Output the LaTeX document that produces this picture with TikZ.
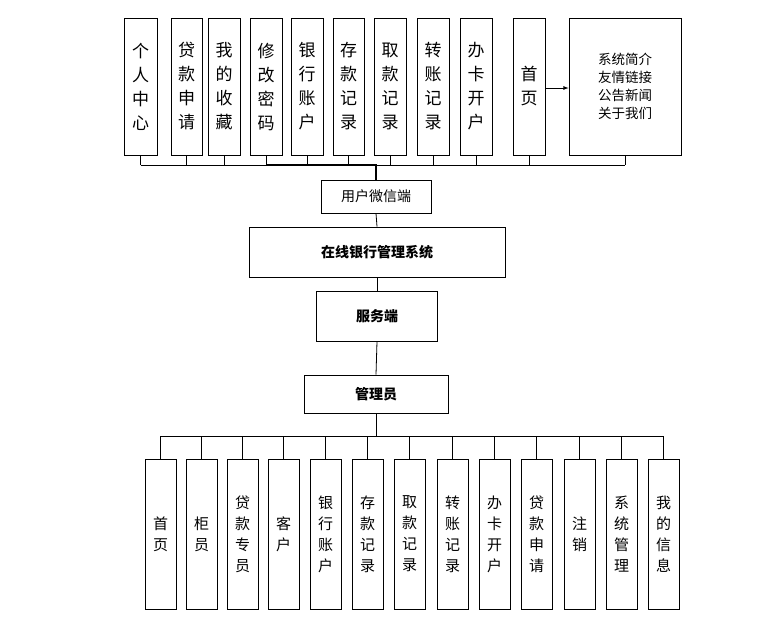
\documentclass[tikz,border=0pt]{standalone}
\usepackage{fontspec}
\setmainfont{Noto Sans CJK SC}
\begin{document}
\begin{tikzpicture}[x=1pt,y=-1pt,
  bx/.style={draw,line width=0.8pt,fill=white,inner sep=0pt,align=center},
  tv/.style={font=\fontsize{17}{24}\selectfont},
  bv/.style={font=\fontsize{15}{21}\selectfont},
  ln/.style={line width=0.8pt}]
\useasboundingbox (0,0) rectangle (765,627);
% top boxes
\foreach \n/\a/\b/\t in {t1/124/157/个\\人\\中\\心, t2/171/202/贷\\款\\申\\请, t3/208/240/我\\的\\收\\藏, t4/250/282/修\\改\\密\\码, t5/291/323/银\\行\\账\\户, t6/333/364/存\\款\\记\\录, t7/374/406/取\\款\\记\\录, t8/417/449/转\\账\\记\\录, t9/460/492/办\\卡\\开\\户, t10/513/545/首\\页}{
  \node[bx,tv,minimum width={\b-\a},minimum height=137] (\n) at ({(\a+\b)/2},86.5) {\t};
  \coordinate (\n b) at ({(\a+\b)/2},165);
  \draw[ln] (\n.south) -- (\n b);
}
\node[bx,font=\fontsize{13.5}{18}\selectfont,minimum width=112,minimum height=137] (t11) at (625,86.5) {系统简介\\友情链接\\公告新闻\\关于我们};
\coordinate (t11b) at (625,165);
\draw[ln] (t11.south) -- (t11b);
\draw[line width=0.8pt,-latex] (t10.east |- 0,88) -- (t11.west |- 0,88);
\draw[ln] (t1b) -- (t11b);
\node[bx,font=\fontsize{14}{16}\selectfont,minimum width=110,minimum height=33] (wx) at (376,196.5) {用户微信端};
\coordinate (j) at (wx.north |- 0,165);
\draw[line width=2pt] (t4b) -- (j) -- (wx.north);
\node[bx,font=\bfseries\fontsize{14}{16}\selectfont,minimum width=256,minimum height=50] (sys) at (377,252) {在线银行管理系统};
\node[bx,font=\bfseries\fontsize{14}{16}\selectfont,minimum width=121,minimum height=50] (srv) at (377,316) {服务端};
\node[bx,font=\bfseries\fontsize{14}{16}\selectfont,minimum width=144,minimum height=38] (adm) at (376,394) {管理员};
\draw[ln] (wx.south) -- (sys.north);
\draw[ln] (sys.south) -- (srv.north);
\draw[ln] (srv.south) -- (adm.north);
% bottom
\foreach \n/\a/\t [count=\i] in {b1/145/首\\页, b2/186/柜\\员, b3/227/贷\\款\\专\\员, b4/268/客\\户, b5/310/银\\行\\账\\户, b6/352/存\\款\\记\\录, b7/394/取\\款\\记\\录, b8/437/转\\账\\记\\录, b9/479/办\\卡\\开\\户, b10/521/贷\\款\\申\\请, b11/564/注\\销, b12/606/系\\统\\管\\理, b13/648/我\\的\\信\\息}{
  \node[bx,bv,minimum width=31,minimum height=150] (\n) at ({\a+15.5},534) {\t};
  \coordinate (\n t) at ({\a+15.5},436);
  \draw[ln] (\n.north) -- (\n t);
}
\draw[ln] (b1t) -- (b13t);
\draw[ln] (adm.south) -- (adm.south |- 0,436);
\end{tikzpicture}
\end{document}
